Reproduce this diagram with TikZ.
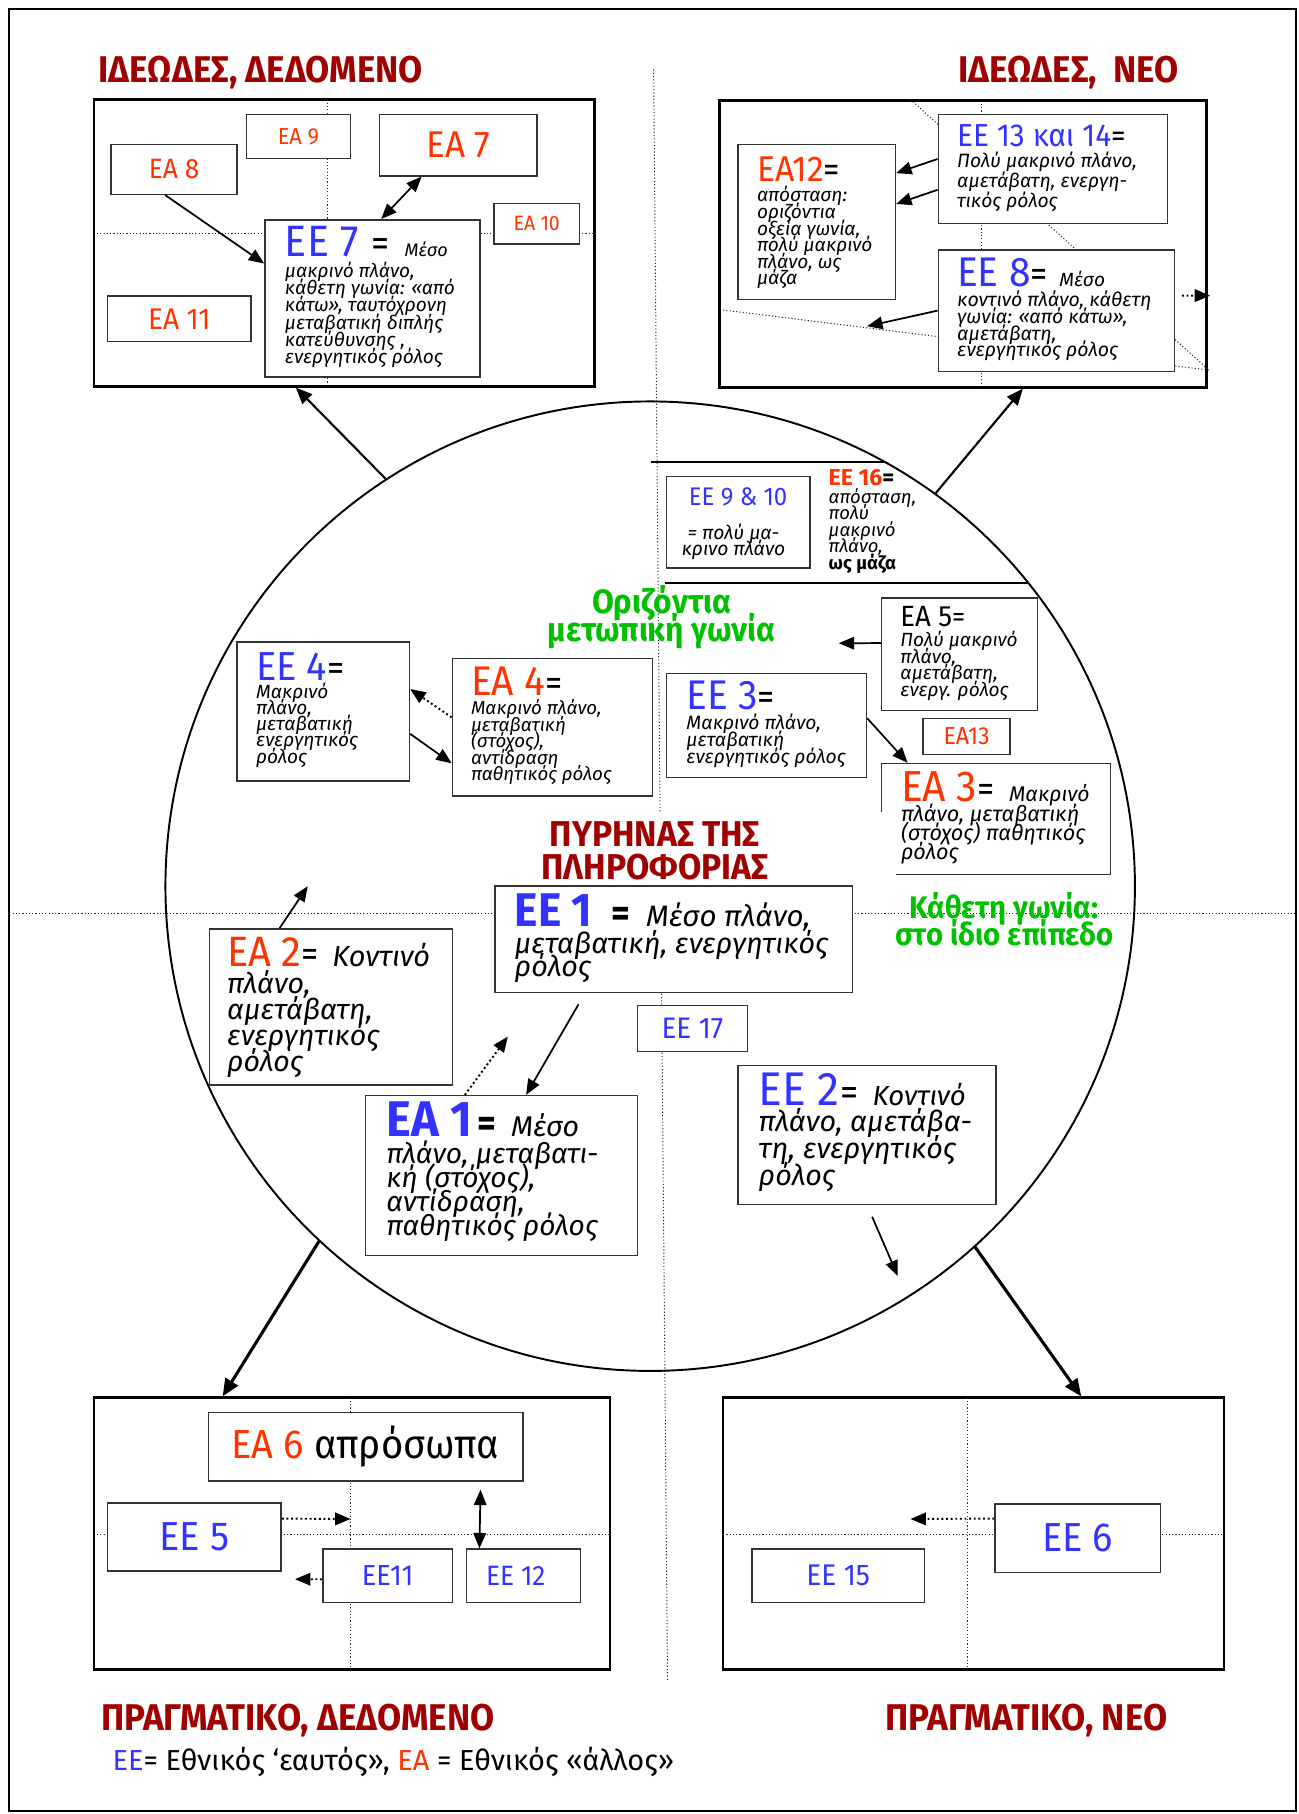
\documentclass[tikz,border=0pt]{standalone}
\usepackage{fontspec}
\setmainfont{Fira Sans}
\newfontfamily\condf{Fira Sans}[FakeStretch=0.94]
\usetikzlibrary{arrows.meta,fit,calc}
\definecolor{eeblue}{HTML}{3333FF}
\definecolor{eared}{HTML}{FF3300}
\definecolor{ttred}{HTML}{A00000}
\definecolor{grn}{HTML}{00C000}
\definecolor{bxline}{HTML}{333333}
\newcommand\fsz[2]{\fontsize{#1}{#2}\selectfont}
\newcommand\itb[3]{\parbox[t]{220pt}{\raggedright\lineskiplimit=-100pt\lineskip=0pt\itshape\fontsize{#1}{#2}\selectfont #3}}
\newcommand\ctb[3]{\parbox[t]{250pt}{\centering\lineskiplimit=-100pt\lineskip=0pt\fontsize{#1}{#2}\selectfont #3}}
\tikzset{
 bx/.style={draw=bxline, line width=0.75pt, fill=white, inner sep=0pt},
 frm/.style={draw=black, line width=1.2pt, inner sep=0pt},
 gl/.style={line width=0.5pt, dash pattern=on 0.6pt off 1.1pt, draw=black!85},
 arr/.style={line width=0.9pt, -{Triangle[length=8pt,width=6.5pt]}},
 arrd/.style={line width=0.9pt, {Triangle[length=8pt,width=6.5pt]}-{Triangle[length=8pt,width=6.5pt]}},
 darr/.style={line width=1pt, dash pattern=on 1pt off 1.4pt, -{Triangle[length=8pt,width=6.5pt]}},
 arrb/.style={line width=1.1pt, -{Triangle[length=8.5pt,width=7pt]}},
 arrB/.style={line width=1.6pt, -{Triangle[length=9pt,width=7.5pt]}},
 tx/.style={inner sep=0pt, anchor=base west},
 lb/.style={inner sep=0pt},
 ttl/.style={inner sep=0pt, anchor=base west, text=ttred, font=\condf\bfseries\fsz{19.3}{20}},
}
\begin{document}
\begin{tikzpicture}[x=0.6pt,y=-0.6pt]
\useasboundingbox (0,0) rectangle (1122,1568);
\fill[white] (0,0) rectangle (1122,1568);
\draw[line width=1pt] (8,8) rectangle (1120,1565);
% main guide lines
\draw[gl] (565,60) -- (577,1452);
\draw[gl] (8,790) -- (1120,790);
% circle
\node[draw, circle, line width=1pt, minimum size=502.8pt, inner sep=0pt] (circ) at (562,766) {};
\draw[line width=1pt] (563,399) -- (764,399);
\draw[line width=1pt] (575,504) -- (889,504);
% frames
\node[frm, fit={(81,86)(514,334)}] (tlf) {};
\node[frm, fit={(622,87)(1043,335)}] (trf) {};
\node[frm, fit={(81,1208)(527,1443)}] (blf) {};
\node[frm, fit={(625,1208)(1058,1443)}] (brf) {};
\draw[gl] (283,86) -- (283,334);
\draw[gl] (81,202) -- (514,202);
\draw[gl] (848,87) -- (848,335);
\draw[gl] (787,86) -- (1045,320);
\draw[gl] (625,268) -- (1046,320);
\draw[gl] (303,1208) -- (303,1443);
\draw[gl] (81,1326) -- (527,1326);
\draw[gl] (836,1208) -- (836,1443);
\draw[gl] (625,1326) -- (1058,1326);

% titles
\node[ttl] (t1) at (85,71.5) {ΙΔΕΩΔΕΣ, ΔΕΔΟΜΕΝΟ};
\node[ttl] (t2) at (828,71.5) {ΙΔΕΩΔΕΣ,\ \ ΝΕΟ};
\node[ttl] (t3) at (87,1495.5) {ΠΡΑΓΜΑΤΙΚΟ, ΔΕΔΟΜΕΝΟ};
\node[ttl] (t4) at (765,1495.5) {ΠΡΑΓΜΑΤΙΚΟ, ΝΕΟ};
\node[tx, font=\fsz{15}{16}] (leg) at (97,1530.5) {\textcolor{eeblue}{ΕΕ}= Εθνικός ‘εαυτός», \textcolor{eared}{ΕΑ} = Εθνικός «άλλος»};

% ---------- top-left frame
\node[bx, fit={(213,99)(303,137)}] (ea9) {};
\node[lb, text=eared, font=\condf\fsz{12}{14}] (ea9t) at (ea9.center) {ΕΑ 9};
\node[bx, fit={(328,99)(464,152)}] (ea7) {};
\node[lb, text=eared, font=\condf\fsz{19.3}{20}] (ea7t) at (ea7.center) {ΕΑ 7};
\node[bx, fit={(96,125)(205,168)}] (ea8) {};
\node[lb, text=eared, font=\condf\fsz{14.5}{16}] (ea8t) at (ea8.center) {ΕΑ 8};
\node[bx, fit={(427,176)(501,211)}] (ea10) {};
\node[lb, text=eared, font=\condf\fsz{10.8}{12}] (ea10t) at (ea10.center) {ΕΑ 10};
\node[bx, fit={(93,256)(217,295)}] (ea11) {};
\node[lb, text=eared, font=\condf\fsz{15.5}{17}] (ea11t) at (ea11.center) {ΕΑ 11};
\node[bx, fit={(229,190)(415,326)}] (ee7) {};
\node[tx] (ee7h) at (246,222) {{\condf\fsz{22.8}{24}\color{eeblue}ΕΕ 7}\hspace{7pt}{\condf\fsz{20}{22}=}\hspace{7.5pt}{\itshape\fsz{9.4}{12}Μέσο}};
\node[tx] (ee7b) at (246,240) {\itb{9.9}{8.9}{μακρινό πλάνο,\\κάθετη γωνία: «από\\κάτω», ταυτόχρονη\\μεταβατική διπλής\\κατεύθυνσης ,\\ενεργητικός ρόλος}};
\draw[arr] ($(ea8.south west)!0.43!(ea8.south east)$) -- ($(ee7.north west)!0.28!(ee7.south west)$);
\draw[arrd] ($(ea7.south west)!0.27!(ea7.south east)$) -- ($(ee7.north west)!0.54!(ee7.north east)$);

% ---------- top-right frame
\node[bx, fit={(638,125)(774,259)}] (ea12) {};
\node[tx] (ea12h) at (654,157) {{\condf\fsz{18.6}{20}\color{eared}ΕΑ12}{\condf\fsz{18}{20}=}};
\node[tx] (ea12b) at (654,174.5) {\itb{9.9}{8.6}{απόσταση:\\οριζόντια\\οξεία γωνία,\\πολύ μακρινό\\πλάνο, ως\\μάζα}};
\node[bx, fit={(811,99)(1009,193)}] (ee13) {};
\node[tx] (ee13h) at (827,127) {{\condf\fsz{16.5}{18}\color{eeblue}ΕΕ 13 και 14}{\condf\fsz{16}{18}=}};
\node[tx] (ee13b) at (827,145) {\itb{10}{10.2}{Πολύ μακρινό πλάνο,\\αμετάβατη, ενεργη-\\τικός ρόλος}};
\node[bx, fit={(811,216)(1015,321)}] (ee8) {};
\node[tx] (ee8h) at (827,248) {{\condf\fsz{21.5}{23}\color{eeblue}ΕΕ 8}{\condf\fsz{19}{21}=}\hspace{6pt}{\itshape\fsz{9.9}{12}Μέσο}};
\node[tx] (ee8b) at (827,265) {\itb{10.1}{8.7}{κοντινό πλάνο, κάθετη\\γωνία: «από κάτω»,\\αμετάβατη,\\ενεργητικός ρόλος}};
\draw[arr] ($(ee13.north west)!0.41!(ee13.south west)$) -- ($(ea12.north east)!0.187!(ea12.south east)$);
\draw[arr] ($(ee13.north west)!0.69!(ee13.south west)$) -- ($(ea12.north east)!0.384!(ea12.south east)$);
\coordinate (c8) at (749.5,282);
\draw[arr] (ee8.west) -- (c8);
\coordinate (c8r) at (1046,255.6);
\draw[darr, shorten <=3.6pt] ($(ee8.north east)!0.377!(ee8.south east)$) -- (c8r);

% ---------- inside the circle
\node[bx, fit={(576,412)(700,491)}] (ee910) {};
\node[inner sep=0pt, anchor=base, text=eeblue, font=\condf\fsz{13.2}{15}] (ee910h) at (638,437) {ΕΕ 9 \& 10};
\node[inner sep=0pt, anchor=base] (ee910b) at (634,466) {\ctb{10}{8.4}{\itshape = πολύ μα-\\κρινο πλάνο}};
\node[tx] (ee16h) at (716,420) {\bfseries\fsz{12}{13}\textcolor{eared}{ΕΕ 16}=};
\node[tx] (ee16b) at (716,435) {\itb{9.6}{8.6}{απόσταση,\\πολύ\\μακρινό\\πλάνο,\\{\upshape\bfseries ως μάζα}}};

\node[inner sep=0pt, anchor=base, text=grn] (gr1) at (572,530) {\ctb{17.5}{14.8}{\condf\bfseries Οριζόντια\\μετωπική γωνία}};
\node[inner sep=0pt, anchor=base, text=grn] (gr2) at (868,794) {\ctb{16.2}{13.8}{\condf\bfseries Κάθετη γωνία:\\στο ίδιο επίπεδο}};

\node[bx, fit={(762,517)(897,614)}] (ea5) {};
\node[tx] (ea5h) at (778,541.7) {{\condf\fsz{15.2}{17}ΕΑ 5}{\condf\fsz{14.5}{16}=}};
\node[tx] (ea5b) at (778,559) {\itb{9.9}{8.6}{Πολύ μακρινό\\πλάνο,\\αμετάβατη,\\ενεργ. ρόλος}};
\coordinate (c5) at (725,556);
\draw[arr] ($(ea5.north west)!0.402!(ea5.south west)$) -- (c5);

\node[bx, fit={(576,582)(749,672)}] (ee3) {};
\node[tx] (ee3h) at (593,613.7) {{\condf\fsz{21.5}{23}\color{eeblue}ΕΕ 3}{\condf\fsz{19}{21}=}};
\node[tx] (ee3b) at (593,631) {\itb{10}{8.7}{Μακρινό πλάνο,\\μεταβατική\\ενεργητικός ρόλος}};

\node[bx, fit={(798,621)(873,652)}] (ea13) {};
\node[lb, text=eared, font=\condf\fsz{12.8}{14}] (ea13t) at (ea13.center) {ΕΑ13};

\node[bx, fit={(762,660)(960,756)}] (ea3) {};
\node[tx] (ea3h) at (778.5,693) {{\condf\fsz{22.5}{24}\color{eared}ΕΑ 3}{\condf\fsz{19}{21}=}\hspace{7.5pt}{\itshape\fsz{11}{13}Μακρινό}};
\node[tx] (ea3b) at (778.5,710) {\itb{11.2}{9.9}{πλάνο, μεταβατική\\(στόχος) παθητικός\\ρόλος}};
\draw[arr] ($(ee3.north east)!0.433!(ee3.south east)$) -- ($(ea3.north west)!0.116!(ea3.north east)$);

\node[bx, fit={(205,555)(354,675)}] (ee4) {};
\node[tx] (ee4h) at (221,587.8) {{\condf\fsz{21}{23}\color{eeblue}ΕΕ 4}{\condf\fsz{19}{21}=}};
\node[tx] (ee4b) at (221,603.6) {\itb{9.9}{8.4}{Μακρινό\\πλάνο,\\μεταβατική\\ενεργητικός\\ρόλος}};

\node[bx, fit={(391,569)(564,688)}] (ea4) {};
\node[tx] (ea4h) at (406.8,601) {{\condf\fsz{21.5}{23}\color{eared}ΕΑ 4}{\condf\fsz{19}{21}=}};
\node[tx] (ea4b) at (406.8,618) {\itb{9.7}{8.5}{Μακρινό πλάνο,\\μεταβατική\\(στόχος),\\αντίδραση\\παθητικός ρόλος}};
\draw[darr] ($(ea4.north west)!0.43!(ea4.south west)$) -- ($(ee4.north east)!0.34!(ee4.south east)$);
\draw[arr] ($(ee4.north east)!0.66!(ee4.south east)$) -- ($(ea4.north west)!0.76!(ea4.south west)$);

\node[inner sep=0pt, inner ysep=5pt, anchor=base, fill=white, text=ttred] (core) at (566,731.8) {\ctb{18.6}{16.8}{\condf\bfseries ΠΥΡΗΝΑΣ ΤΗΣ\\ΠΛΗΡΟΦΟΡΙΑΣ}};

\node[bx, fit={(428,766)(737,858)}] (ee1) {};
\node[tx] (ee1h) at (444.6,800.5) {{\condf\bfseries\fsz{24.5}{26}\color{eeblue}ΕΕ 1}\hspace{10pt}{\condf\bfseries\fsz{20}{22}=}\hspace{8pt}{\itshape\fsz{15.3}{17}Μέσο πλάνο,}};
\node[tx] (ee1b) at (444.6,824) {\itb{14.9}{12.3}{μεταβατική, ενεργητικός\\ρόλος}};

\node[bx, fit={(551,869)(646,909)}] (ee17) {};
\node[lb, text=eeblue, font=\condf\fsz{15.4}{17}] (ee17t) at (ee17.center) {ΕΕ 17};

\node[bx, fit={(181,803)(391,938)}] (ea2) {};
\node[tx] (ea2h) at (196,835.6) {{\condf\fsz{22}{24}\color{eared}ΕΑ 2}{\condf\fsz{19}{21}=}\hspace{7pt}{\itshape\fsz{15}{17}Κοντινό}};
\node[tx] (ea2b) at (196,858.5) {\itb{14.8}{13.6}{πλάνο,\\αμετάβατη,\\ενεργητικός\\ρόλος}};
\coordinate (c2) at (266,766);
\draw[arr] ($(ea2.north west)!0.29!(ea2.north east)$) -- (c2);

\node[bx, fit={(316,947)(551,1085)}] (ea1) {};
\node[tx] (ea1h) at (333.6,982.5) {{\condf\bfseries\fsz{26}{28}\color{eeblue}ΕΑ 1}\hspace{3pt}{\condf\bfseries\fsz{20}{22}=}\hspace{7.5pt}{\itshape\fsz{14.8}{17}Μέσο}};
\node[tx] (ea1b) at (333.6,1005.5) {\itb{14.6}{12.5}{πλάνο, μεταβατι-\\κή (στόχος),\\αντίδραση,\\παθητικός ρόλος}};
\draw[arr, shorten <=6.6pt] ($(ee1.south west)!0.252!(ee1.south east)$) -- ($(ea1.north west)!0.59!(ea1.north east)$);
\coordinate (c1) at (439,896);
\draw[darr] ($(ea1.north west)!0.366!(ea1.north east)$) -- (c1);

\node[bx, fit={(638,921)(861,1041)}] (ee2) {};
\node[tx] (ee2h) at (655.5,955.7) {{\condf\fsz{24.5}{26}\color{eeblue}ΕΕ 2}{\condf\fsz{20}{22}=}\hspace{7.5pt}{\itshape\fsz{14.3}{16}Κοντινό}};
\node[tx] (ee2b) at (655.5,978) {\itb{14.9}{14.1}{πλάνο, αμετάβα-\\τη, ενεργητικός\\ρόλος}};
\coordinate (c2b) at (776,1103);
\draw[arr, shorten <=6.6pt] (ee2.south) -- (c2b);

% arrows from the circle to the frames
\draw[arrb] (circ.123.4) -- ($(tlf.south west)!0.404!(tlf.south east)$);
\draw[arrb] (circ.54) -- ($(trf.south west)!0.622!(trf.south east)$);
\draw[arrB] (circ.227.7) -- ($(blf.north west)!0.251!(blf.north east)$);
\draw[arrB] (circ.312.5) -- ($(brf.north west)!0.714!(brf.north east)$);

% ---------- bottom-left frame
\node[bx, fit={(180,1221)(452,1280)}] (ea6) {};
\node[lb, font=\condf\fsz{21}{23}] (ea6t) at (ea6.center) {\textcolor{eared}{ΕΑ 6} απρόσωπα};
\node[bx, fit={(93,1299)(243,1358)}] (ee5) {};
\node[lb, text=eeblue, font=\condf\fsz{21}{23}] (ee5t) at (ee5.center) {ΕΕ 5};
\node[bx, fit={(279,1339)(391,1385)}] (ee11) {};
\node[lb, text=eeblue, font=\condf\fsz{15}{17}] (ee11t) at (ee11.center) {ΕΕ11};
\node[bx, fit={(403,1339)(502,1385)}] (ee12) {};
\node[lb, text=eeblue, font=\condf\fsz{14.5}{16}] (ee12t) at ([xshift=-4pt]ee12.center) {ΕΕ 12};
\coordinate (c5b) at (303,1313);
\draw[darr] ($(ee5.north east)!0.237!(ee5.south east)$) -- (c5b);
\coordinate (c11) at (255,1365);
\draw[darr] ($(ee11.north west)!0.565!(ee11.south west)$) -- (c11);
\draw[arrd, shorten <=4.2pt] ($(ea6.south west)!0.864!(ea6.south east)$) -- ($(ee12.north west)!0.12!(ee12.north east)$);

% ---------- bottom-right frame
\node[bx, fit={(860,1300)(1003,1359)}] (ee6) {};
\node[lb, text=eeblue, font=\condf\fsz{21}{23}] (ee6t) at (ee6.center) {ΕΕ 6};
\node[bx, fit={(650,1339)(799,1385)}] (ee15) {};
\node[lb, text=eeblue, font=\condf\fsz{15.5}{17}] (ee15t) at (ee15.center) {ΕΕ 15};
\coordinate (c6) at (787,1313);
\draw[darr] ($(ee6.north west)!0.22!(ee6.south west)$) -- (c6);
\end{tikzpicture}
\end{document}
